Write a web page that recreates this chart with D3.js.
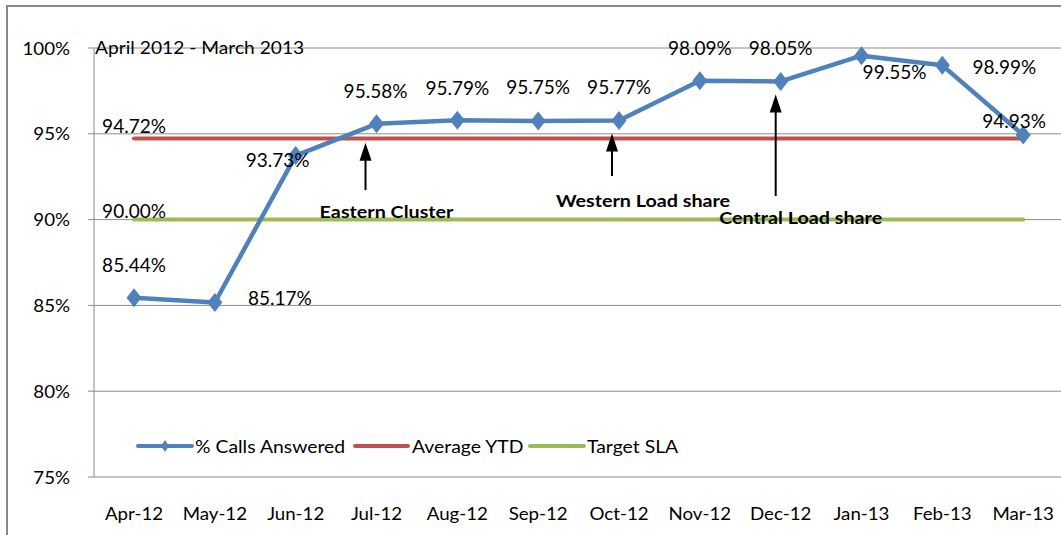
<!DOCTYPE html>
<html>
<head>
<meta charset="utf-8">
<script src="https://cdn.jsdelivr.net/npm/d3@7"></script>
<style>
  body { margin: 0; background: #fff; }
  svg { display: block; }
  text { font-family: Lato, "Open Sans", sans-serif; fill: #000; }
</style>
</head>
<body>
<div id="chart"></div>
<script>
const months = ["Apr-12", "May-12", "Jun-12", "Jul-12", "Aug-12", "Sep-12",
  "Oct-12", "Nov-12", "Dec-12", "Jan-13", "Feb-13", "Mar-13"];
const callsAnswered = [85.44, 85.17, 93.73, 95.58, 95.79, 95.75, 95.77, 98.09, 98.05, 99.55, 98.99, 94.93];
const averageYTD = 94.72;
const targetSLA = 90.0;
const yTicks = [75, 80, 85, 90, 95, 100];
const seriesNames = ["% Calls Answered", "Average YTD", "Target SLA"];
const annotations = [
  { text: "Eastern Cluster", month: "Jul-12" },
  { text: "Western Load share", month: "Oct-12" },
  { text: "Central Load share", month: "Dec-12" }
];
const subtitle = "April 2012 - March 2013";

// hand placed label offsets, like the original
const labelOffsets = [[0, -33], [65, -5], [-18, 4], [-1, -33], [0, -33], [0, -34],
  [0, -34], [0, -33], [0, -34], [33, 16], [62, 1], [-9, -15]];
const annoLayout = [
  { ax: -11, tip: 19, tail: 190, lx: 21, ly: 212 },
  { ax: -7, tip: 13, tail: 176, lx: 31, ly: 201 },
  { ax: -5, tip: 13, tail: 196, lx: 25, ly: 218 }
];

const W = 1061, H = 535;
const blue = "#4f81bd", red = "#c0504d", green = "#9bbb59", grid = "#8c8c8c";

const svg = d3.select("#chart").append("svg").attr("width", W).attr("height", H);

const x = d3.scaleBand().domain(months).range([93.6, 1063.6]);
const y = d3.scaleLinear().domain([75, 100]).range([477, 48]);
const cx = (m) => x(m) + x.bandwidth() / 2;

function stretchText(sel, sx) {
  sel.attr("transform", function () {
    const t = d3.select(this);
    return `translate(${t.attr("x")},${t.attr("y")}) scale(${sx},1)`;
  }).attr("x", 0).attr("y", 0);
}

// outer border
svg.append("path").attr("d", `M7,${H} L7,6 L${W},6`)
  .attr("fill", "none").attr("stroke", "#8a8a8a").attr("stroke-width", 2);

// grid + ticks
svg.append("g").selectAll("line").data(yTicks).join("line")
  .attr("x1", 88).attr("x2", W).attr("y1", (d) => y(d)).attr("y2", (d) => y(d))
  .attr("stroke", grid).attr("stroke-width", 1);
svg.append("line").attr("x1", 94).attr("x2", 94).attr("y1", y(100)).attr("y2", y(75))
  .attr("stroke", grid).attr("stroke-width", 1);

svg.append("g").selectAll("text").data(yTicks).join("text")
  .attr("x", 70).attr("y", (d) => y(d)).attr("text-anchor", "end")
  .attr("dominant-baseline", "central").attr("font-size", 17)
  .text((d) => d + "%")
  .call(stretchText, 1.1);

svg.append("g").selectAll("text").data(months).join("text")
  .attr("x", (d) => cx(d)).attr("y", 513).attr("text-anchor", "middle")
  .attr("dominant-baseline", "central").attr("font-size", 17)
  .text((d) => d)
  .call(stretchText, 1.1);

// reference lines
svg.append("line").attr("x1", cx(months[0])).attr("x2", cx(months[11]))
  .attr("y1", y(targetSLA)).attr("y2", y(targetSLA))
  .attr("stroke", green).attr("stroke-width", 4).attr("stroke-linecap", "round");
svg.append("line").attr("x1", cx(months[0])).attr("x2", cx(months[11]))
  .attr("y1", y(averageYTD)).attr("y2", y(averageYTD))
  .attr("stroke", red).attr("stroke-width", 4).attr("stroke-linecap", "round");

// main series
const line = d3.line().x((d, i) => cx(months[i])).y((d) => y(d));
svg.append("path").datum(callsAnswered).attr("d", line)
  .attr("fill", "none").attr("stroke", blue).attr("stroke-width", 4.5)
  .attr("stroke-linejoin", "round");

const diamond = (px, py, rx, ry) => `M${px},${py - ry}L${px + rx},${py}L${px},${py + ry}L${px - rx},${py}Z`;
svg.append("g").selectAll("path").data(callsAnswered).join("path")
  .attr("d", (d, i) => diamond(cx(months[i]), y(d), 7.5, 9.5))
  .attr("fill", blue);

// value labels
svg.append("g").selectAll("text").data(callsAnswered).join("text")
  .attr("x", (d, i) => cx(months[i]) + labelOffsets[i][0])
  .attr("y", (d, i) => y(d) + labelOffsets[i][1])
  .attr("text-anchor", "middle").attr("dominant-baseline", "central")
  .attr("font-size", 19)
  .text((d) => d.toFixed(2) + "%");

svg.append("text").attr("x", cx(months[0])).attr("y", y(averageYTD) - 13)
  .attr("text-anchor", "middle").attr("dominant-baseline", "central").attr("font-size", 19)
  .text(averageYTD.toFixed(2) + "%");
svg.append("text").attr("x", cx(months[0])).attr("y", y(targetSLA) - 9)
  .attr("text-anchor", "middle").attr("dominant-baseline", "central").attr("font-size", 19)
  .text(targetSLA.toFixed(2) + "%");

svg.append("text").attr("x", 95).attr("y", 47).attr("dominant-baseline", "central")
  .attr("font-size", 17).text(subtitle).call(stretchText, 1.13);

// annotations
const ann = svg.append("g").selectAll("g").data(annotations).join("g");
ann.each(function (d, i) {
  const g = d3.select(this);
  const L = annoLayout[i];
  const ax = cx(d.month) + L.ax;
  const tipY = y(callsAnswered[months.indexOf(d.month)]) + L.tip;
  g.append("line").attr("x1", ax).attr("x2", ax).attr("y1", tipY + 12).attr("y2", L.tail)
    .attr("stroke", "#000").attr("stroke-width", 2);
  g.append("path").attr("d", `M${ax},${tipY}L${ax + 6},${tipY + 18}L${ax - 6},${tipY + 18}Z`)
    .attr("fill", "#000");
  g.append("text").attr("x", ax + L.lx).attr("y", L.ly).attr("text-anchor", "middle")
    .attr("dominant-baseline", "central").attr("font-size", 17).attr("font-weight", "bold")
    .text(d.text).call(stretchText, 1.16);
});

// legend
const legendItems = [
  { name: seriesNames[0], color: blue, x1: 138, x2: 192, tx: 195, marker: true },
  { name: seriesNames[1], color: red, x1: 355, x2: 408, tx: 412 },
  { name: seriesNames[2], color: green, x1: 530, x2: 584, tx: 587 }
];
const lg = svg.append("g").selectAll("g").data(legendItems).join("g");
lg.append("line").attr("x1", (d) => d.x1).attr("x2", (d) => d.x2)
  .attr("y1", 446).attr("y2", 446).attr("stroke", (d) => d.color)
  .attr("stroke-width", 4).attr("stroke-linecap", "round");
lg.filter((d) => d.marker).append("path")
  .attr("d", (d) => diamond((d.x1 + d.x2) / 2, 446, 4, 6)).attr("fill", blue);
lg.append("text").attr("x", (d) => d.tx).attr("y", 446).attr("dominant-baseline", "central")
  .attr("font-size", 17).text((d) => d.name).call(stretchText, 1.14);
</script>
</body>
</html>
